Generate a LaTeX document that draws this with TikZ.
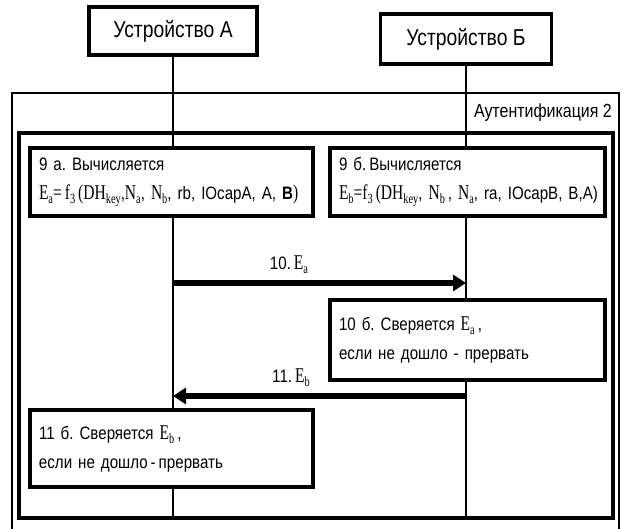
\documentclass[tikz,border=0pt]{standalone}
\usepackage{fontspec}
\setmainfont{Liberation Sans}[FakeStretch=0.84]
\newfontfamily\serifpart{Liberation Serif}[FakeStretch=0.74]
\usetikzlibrary{arrows.meta}
\frenchspacing

% serif letters of the formulas and their lowered indices
\newcommand\sr[1]{{\fontsize{21pt}{29pt}\serifpart #1}}
\newcommand\lo[1]{\raisebox{-0.45ex}{\fontsize{14pt}{14pt}\selectfont\serifpart #1}}
% narrow word spacing of the step texts
\newcommand\stepfont{\fontsize{18pt}{29pt}\selectfont\spaceskip 3.4pt plus 1pt minus 1pt\relax}

\begin{document}
\begin{tikzpicture}[x=1pt,y=-1pt,
  devbox/.style={draw,line width=3.2pt,fill=white,font=\fontsize{23pt}{23pt}\selectfont,inner sep=0pt},
  stepbox/.style={draw,line width=4pt,fill=white,align=left,inner xsep=9pt,inner ysep=0pt,
    font=\stepfont},
  frameline/.style={line width=2.6pt},
  lifeline/.style={line width=2.4pt},
  msg/.style={line width=5.5pt,-{Triangle[length=13pt,width=16pt]}},
  msglabel/.style={font=\fontsize{18pt}{18pt}\selectfont,inner sep=0pt}]
\useasboundingbox (0,0) rectangle (622,529);

% outer frame, open at the bottom
\draw[frameline] (12,545) -- (12,93) -- (619,93) -- (619,545);
\node[anchor=east,font=\fontsize{19pt}{19pt}\selectfont,inner sep=0pt] (title) at (612,113) {Аутентификация 2};

% inner frame
\node[draw,line width=3.2pt,minimum width=594pt,minimum height=385pt,inner sep=0pt] (inner) at (316,325.5) {};

% devices
\node[devbox,minimum width=168pt,minimum height=48pt] (devA) at (173,31) {Устройство А};
\node[devbox,minimum width=171pt,minimum height=50pt] (devB) at (466,39) {Устройство Б};

% lifelines
\draw[lifeline] (devA.south) -- (devA.south |- inner.south);
\draw[lifeline] (devB.south) -- (devB.south |- inner.south);

% steps
\node[stepbox,text width=265pt,minimum height=68pt] (s9a) at (171.5,182) {9 а. Вычисляется\\
\mbox{\sr{E}\lo{a}\sr{=}\,\sr{f}\lo{3}\,\sr{(}\sr{DH}\lo{key},\sr{N}\lo{a}, \sr{N}\lo{b}, rb, IOcapA, A, \textbf{B}\sr{)}}};
\node[stepbox,text width=257pt,minimum height=68pt] (s9b) at (467.5,182) {9 б.\,Вычисляется\\
\mbox{\sr{E}\lo{b}\sr{=}\sr{f}\lo{3}\,\sr{(}\sr{DH}\lo{key}, \sr{N}\lo{b}\,, \sr{N}\lo{a}, ra, IOcapB, B,A)}};

% messages between the lifelines
\path (devA.south |- 0,283) coordinate (a10) (devB.south |- 0,283) coordinate (b10);
\path (devA.south |- 0,396) coordinate (a11) (devB.south |- 0,396) coordinate (b11);
\draw[msg] (a10) -- (b10);
\node[msglabel] (l10) at (289,265) {10.\,\sr{E}\lo{a}};

\node[stepbox,text width=257pt,minimum height=80pt] (s10b) at (467.5,340) {10 б. Сверяется \sr{E}\lo{a}\,,\\
если не дошло - прервать};

\draw[msg] (b11) -- (a11);
\node[msglabel] (l11) at (291,378) {11.\,\sr{E}\lo{b}};

\node[stepbox,text width=265pt,minimum height=77pt] (s11b) at (171.5,448.5) {11 б. Сверяется \sr{E}\lo{b}\,,\\
если не дошло\,-\,прервать};
\end{tikzpicture}
\end{document}
